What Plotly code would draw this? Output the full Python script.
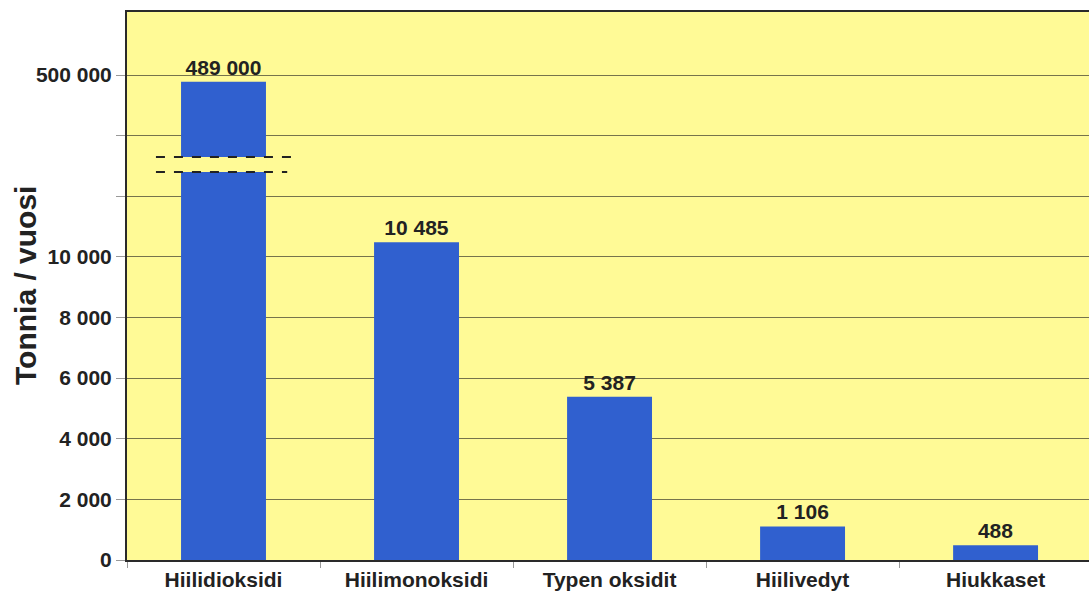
import plotly.graph_objects as go

categories = ["Hiilidioksidi", "Hiilimonoksidi", "Typen oksidit", "Hiilivedyt", "Hiukkaset"]
values = [489000, 10485, 5387, 1106, 488]
tick_values = [0, 2000, 4000, 6000, 8000, 10000, 12000, 14000, 500000]
tick_labels = ["0", "2 000", "4 000", "6 000", "8 000", "10 000", "", "", "500 000"]

# broken axis: values above the break are drawn on a compressed upper segment
BREAK_LOW = 12800
BREAK_HIGH = 13300
UPPER_REF_VALUE = 500000
UPPER_REF_POS = 16000
UPPER_SCALE = 225 / 11000


def to_axis(v):
    if v <= BREAK_LOW:
        return v
    return UPPER_REF_POS - (UPPER_REF_VALUE - v) * UPPER_SCALE


def fmt(v):
    return f"{v:,}".replace(",", " ")


disp = [to_axis(v) for v in values]
tick_pos = [to_axis(v) if v > 14000 else v for v in tick_values]

FONT = "Arial, Liberation Sans, sans-serif"
BAR = "#3060cf"
BG = "#fffa96"
GRID = "#76734c"
BW = 0.44

fig = go.Figure()
fig.add_trace(go.Bar(
    x=categories, y=disp, width=BW,
    marker=dict(color=BAR, line=dict(width=0)),
    text=[fmt(v) for v in values], textposition="outside",
    textfont=dict(family=FONT, size=21, color="#222222", weight="bold"),
    cliponaxis=False,
))

shapes = [
    dict(type="rect", xref="x", yref="y", x0=-BW / 2 - 0.005, x1=BW / 2 + 0.005,
         y0=BREAK_LOW, y1=BREAK_HIGH, fillcolor=BG, line=dict(width=0), layer="above"),
    dict(type="line", xref="x", yref="y", x0=-0.35, x1=0.35, y0=BREAK_HIGH, y1=BREAK_HIGH,
         line=dict(color="#222222", width=2, dash="dash")),
    dict(type="line", xref="x", yref="y", x0=-0.35, x1=0.33, y0=BREAK_LOW, y1=BREAK_LOW,
         line=dict(color="#222222", width=2, dash="dash")),
]

fig.update_layout(
    width=1089, height=591,
    margin=dict(l=127, r=0, t=12, b=31),
    paper_bgcolor="white", plot_bgcolor=BG,
    showlegend=False, bargap=0.56,
    shapes=shapes,
    font=dict(family=FONT, color="#222222"),
    annotations=[dict(
        text="Tonnia / vuosi", xref="paper", yref="paper",
        x=-0.106, y=0.5, xanchor="center", yanchor="middle",
        textangle=-90, showarrow=False,
        font=dict(family=FONT, size=30, color="#222222", weight="bold"),
    )],
)
fig.update_xaxes(
    type="category", range=[-0.5, 4.484],
    showline=True, linecolor="#2a2a2a", linewidth=2, mirror=True,
    ticks="outside", tickson="boundaries", ticklen=6, tickcolor="#999999",
    tickfont=dict(family=FONT, size=21, color="#222222", weight="bold"),
    showgrid=False,
)
fig.update_yaxes(
    range=[0, 18080],
    tickmode="array", tickvals=tick_pos, ticktext=tick_labels,
    ticks="outside", ticklen=9, tickcolor="#999999",
    tickfont=dict(family=FONT, size=21, color="#222222", weight="bold"),
    showline=True, linecolor="#2a2a2a", linewidth=2,
    showgrid=True, gridcolor=GRID, gridwidth=1,
    zeroline=False,
)

fig.write_html("out.html")
